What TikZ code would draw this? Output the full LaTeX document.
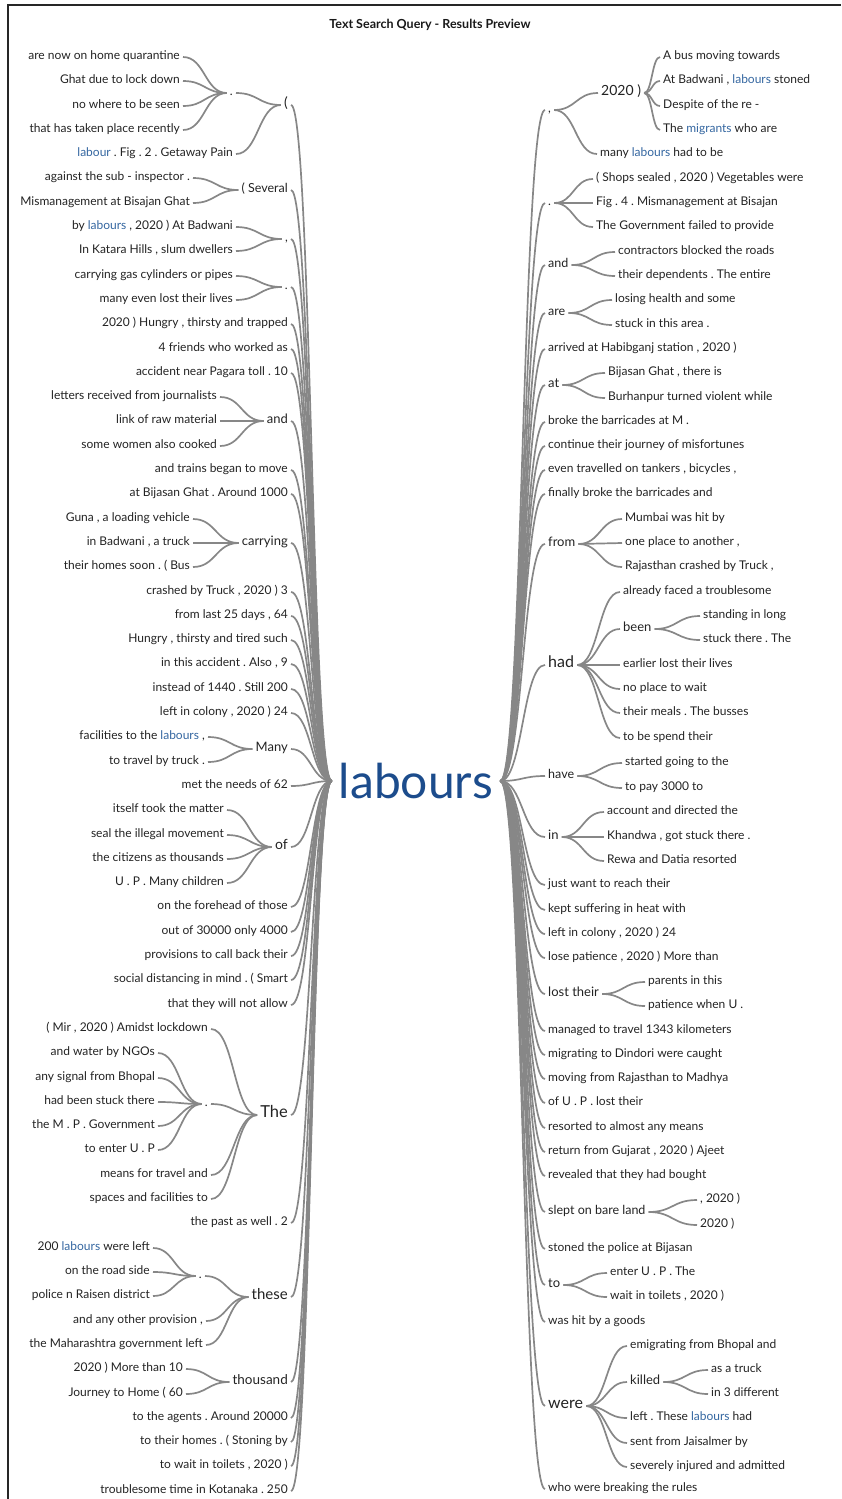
\documentclass[tikz,border=0pt]{standalone}
\usepackage{fontspec}
\setmainfont{Lato}
\usepackage{tikz}
\usetikzlibrary{calc}
\frenchspacing

\definecolor{wtext}{RGB}{35,35,35}
\definecolor{wlink}{RGB}{135,135,135}
\definecolor{hlblue}{RGB}{52,102,160}
\definecolor{keyblue}{RGB}{28,76,140}
\newcommand{\hw}[1]{\textcolor{hlblue}{#1}}

\tikzset{
  leaf/.style={font=\fontsize{12}{14}\selectfont, text=wtext, inner sep=3pt},
  lleaf/.style={leaf, anchor=mid east},
  rleaf/.style={leaf, anchor=mid west},
  hub/.style={font=\fontsize{#1}{#1}\selectfont, text=wtext, inner sep=3pt},
  lhub/.style={hub=#1, anchor=mid east},
  rhub/.style={hub=#1, anchor=mid west},
  wt/.style={draw=wlink, line width=1.7pt,
    to path={let \p1=(\tikztostart), \p2=(\tikztotarget) in
      .. controls ({(\x1+\x2)/2},\y1) and ({(\x1+\x2)/2},\y2) .. (\tikztotarget)}},
}

\begin{document}
\begin{tikzpicture}[x=1pt,y=-1pt]
\useasboundingbox (0,0) rectangle (841,1499);
% frame and title:
\draw[line width=1.5pt,black!85] (8,1499) -- (8,5) -- (841,5);
\node[font=\bfseries\fontsize{12.5}{14}\selectfont, text=black!90] (title) at (430,25) {Text Search Query - Results Preview};
% the search word:
\node[font=\fontsize{48}{48}\selectfont, text=keyblue, inner sep=7pt] (lab) at (416,781) {labours};

% left side, hubs:
\node[lhub=14] (lparen) at (291,105) {(};
\node[lhub=12] (ldotA) at (236,93) {.};
\node[lhub=12.5] (lsev) at (291,190) {( Several};
\node[lhub=12] (lcommaA) at (291,239) {,};
\node[lhub=12] (ldotB) at (291,287) {.};
\node[lhub=13] (land) at (291,421) {and};
\node[lhub=13] (lcarry) at (291,543) {carrying};
\node[lhub=13] (lmany) at (291,749) {Many};
\node[lhub=14] (lof) at (291,847) {of};
\node[lhub=16.5] (lthe) at (291,1115) {The};
\node[lhub=12] (ldotC) at (211,1104) {.};
\node[lhub=15] (lthese) at (291,1297) {these};
\node[lhub=12] (ldotD) at (205,1276) {.};
\node[lhub=13.5] (lthou) at (291,1382) {thousand};

% left side, rows:
\node[lleaf] (l1) at (183,57) {are now on home quarantine};
\node[lleaf] (l2) at (183,81) {Ghat due to lock down};
\node[lleaf] (l3) at (183,106) {no where to be seen};
\node[lleaf] (l4) at (183,130) {that has taken place recently};
\node[lleaf] (l5) at (236,154) {\hw{labour} . Fig . 2 . Getaway Pain};
\node[lleaf] (l6) at (193,178) {against the sub - inspector .};
\node[lleaf] (l7) at (193,203) {Mismanagement at Bisajan Ghat};
\node[lleaf] (l8) at (236,227) {by \hw{labours} , 2020 ) At Badwani};
\node[lleaf] (l9) at (236,251) {In Katara Hills , slum dwellers};
\node[lleaf] (l10) at (236,276) {carrying gas cylinders or pipes};
\node[lleaf] (l11) at (236,300) {many even lost their lives};
\node[lleaf] (l12) at (291,324) {2020 ) Hungry , thirsty and trapped};
\node[lleaf] (l13) at (291,349) {4 friends who worked as};
\node[lleaf] (l14) at (291,373) {accident near Pagara toll . 10};
\node[lleaf] (l15) at (220,397) {letters received from journalists};
\node[lleaf] (l16) at (220,421) {link of raw material};
\node[lleaf] (l17) at (220,446) {some women also cooked};
\node[lleaf] (l18) at (291,470) {and trains began to move};
\node[lleaf] (l19) at (291,494) {at Bijasan Ghat . Around 1000};
\node[lleaf] (l20) at (193,519) {Guna , a loading vehicle};
\node[lleaf] (l21) at (193,543) {in Badwani , a truck};
\node[lleaf] (l22) at (193,567) {their homes soon . ( Bus};
\node[lleaf] (l23) at (291,592) {crashed by Truck , 2020 ) 3};
\node[lleaf] (l24) at (291,616) {from last 25 days , 64};
\node[lleaf] (l25) at (291,640) {Hungry , thirsty and tired such};
\node[lleaf] (l26) at (291,664) {in this accident . Also , 9};
\node[lleaf] (l27) at (291,689) {instead of 1440 . Still 200};
\node[lleaf] (l28) at (291,713) {left in colony , 2020 ) 24};
\node[lleaf] (l29) at (208,737) {facilities to the \hw{labours} ,};
\node[lleaf] (l30) at (208,762) {to travel by truck .};
\node[lleaf] (l31) at (291,786) {met the needs of 62};
\node[lleaf] (l32) at (227,810) {itself took the matter};
\node[lleaf] (l33) at (227,835) {seal the illegal movement};
\node[lleaf] (l34) at (227,859) {the citizens as thousands};
\node[lleaf] (l35) at (227,883) {U . P . Many children};
\node[lleaf] (l36) at (291,907) {on the forehead of those};
\node[lleaf] (l37) at (291,932) {out of 30000 only 4000};
\node[lleaf] (l38) at (291,956) {provisions to call back their};
\node[lleaf] (l39) at (291,980) {social distancing in mind . ( Smart};
\node[lleaf] (l40) at (291,1005) {that they will not allow};
\node[lleaf] (l41) at (211,1029) {( Mir , 2020 ) Amidst lockdown};
\node[lleaf] (l42) at (158,1053) {and water by NGOs};
\node[lleaf] (l43) at (158,1078) {any signal from Bhopal};
\node[lleaf] (l44) at (158,1102) {had been stuck there};
\node[lleaf] (l45) at (158,1126) {the M . P . Government};
\node[lleaf] (l46) at (158,1150) {to enter U . P};
\node[lleaf] (l47) at (211,1175) {means for travel and};
\node[lleaf] (l48) at (211,1199) {spaces and facilities to};
\node[lleaf] (l49) at (291,1223) {the past as well . 2};
\node[lleaf] (l50) at (153,1248) {200 \hw{labours} were left};
\node[lleaf] (l51) at (153,1272) {on the road side};
\node[lleaf] (l52) at (153,1296) {police n Raisen district};
\node[lleaf] (l53) at (206,1321) {and any other provision ,};
\node[lleaf] (l54) at (206,1345) {the Maharashtra government left};
\node[lleaf] (l55) at (186,1369) {2020 ) More than 10};
\node[lleaf] (l56) at (186,1394) {Journey to Home ( 60};
\node[lleaf] (l57) at (291,1418) {to the agents . Around 20000};
\node[lleaf] (l58) at (291,1442) {to their homes . ( Stoning by};
\node[lleaf] (l59) at (291,1466) {to wait in toilets , 2020 )};
\node[lleaf] (l60) at (291,1491) {troublesome time in Kotanaka . 250};

% right side, hubs:
\node[rhub=12] (rcommaA) at (545,110) {,};
\node[rhub=14] (r2020) at (598,93) {2020 )};
\node[rhub=12] (rdotA) at (545,203) {.};
\node[rhub=12.5] (rand) at (545,265) {and};
\node[rhub=12.5] (rare) at (545,313) {are};
\node[rhub=13] (rat) at (545,385) {at};
\node[rhub=13] (rfrom) at (545,544) {from};
\node[rhub=16] (rhad) at (545,665) {had};
\node[rhub=13] (rbeen) at (620,629) {been};
\node[rhub=12.5] (rhave) at (545,776) {have};
\node[rhub=13] (rin) at (545,837) {in};
\node[rhub=13] (rlost) at (545,994) {lost their};
\node[rhub=12.5] (rslept) at (545,1212) {slept on bare land};
\node[rhub=13] (rto) at (545,1285) {to};
\node[rhub=16] (rwere) at (545,1406) {were};
\node[rhub=13] (rkill) at (627,1382) {killed};

% right side, rows:
\node[rleaf] (r1) at (660,57) {A bus moving towards};
\node[rleaf] (r2) at (660,81) {At Badwani , \hw{labours} stoned};
\node[rleaf] (r3) at (660,106) {Despite of the re -};
\node[rleaf] (r4) at (660,130) {The \hw{migrants} who are};
\node[rleaf] (r5) at (597,154) {many \hw{labours} had to be};
\node[rleaf] (r6) at (593,179) {( Shops sealed , 2020 ) Vegetables were};
\node[rleaf] (r7) at (593,203) {Fig . 4 . Mismanagement at Bisajan};
\node[rleaf] (r8) at (593,227) {The Government failed to provide};
\node[rleaf] (r9) at (615,252) {contractors blocked the roads};
\node[rleaf] (r10) at (615,276) {their dependents . The entire};
\node[rleaf] (r11) at (612,300) {losing health and some};
\node[rleaf] (r12) at (612,325) {stuck in this area .};
\node[rleaf] (r13) at (545,349) {arrived at Habibganj station , 2020 )};
\node[rleaf] (r14) at (605,373) {Bijasan Ghat , there is};
\node[rleaf] (r15) at (605,398) {Burhanpur turned violent while};
\node[rleaf] (r16) at (545,422) {broke the barricades at M .};
\node[rleaf] (r17) at (545,446) {continue their journey of misfortunes};
\node[rleaf] (r18) at (545,470) {even travelled on tankers , bicycles ,};
\node[rleaf] (r19) at (545,494) {finally broke the barricades and};
\node[rleaf] (r20) at (622,519) {Mumbai was hit by};
\node[rleaf] (r21) at (622,543) {one place to another ,};
\node[rleaf] (r22) at (622,567) {Rajasthan crashed by Truck ,};
\node[rleaf] (r23) at (620,592) {already faced a troublesome};
\node[rleaf] (r24) at (700,616) {standing in long};
\node[rleaf] (r25) at (700,640) {stuck there . The};
\node[rleaf] (r26) at (620,665) {earlier lost their lives};
\node[rleaf] (r27) at (620,689) {no place to wait};
\node[rleaf] (r28) at (620,713) {their meals . The busses};
\node[rleaf] (r29) at (620,738) {to be spend their};
\node[rleaf] (r30) at (622,763) {started going to the};
\node[rleaf] (r31) at (622,788) {to pay 3000 to};
\node[rleaf] (r32) at (604,812) {account and directed the};
\node[rleaf] (r33) at (604,837) {Khandwa , got stuck there .};
\node[rleaf] (r34) at (604,861) {Rewa and Datia resorted};
\node[rleaf] (r35) at (545,885) {just want to reach their};
\node[rleaf] (r36) at (545,910) {kept suffering in heat with};
\node[rleaf] (r37) at (545,934) {left in colony , 2020 ) 24};
\node[rleaf] (r38) at (545,958) {lose patience , 2020 ) More than};
\node[rleaf] (r39) at (645,982) {parents in this};
\node[rleaf] (r40) at (645,1006) {patience when U .};
\node[rleaf] (r41) at (545,1031) {managed to travel 1343 kilometers};
\node[rleaf] (r42) at (545,1055) {migrating to Dindori were caught};
\node[rleaf] (r43) at (545,1079) {moving from Rajasthan to Madhya};
\node[rleaf] (r44) at (545,1103) {of U . P . lost their};
\node[rleaf] (r45) at (545,1128) {resorted to almost any means};
\node[rleaf] (r46) at (545,1152) {return from Gujarat , 2020 ) Ajeet};
\node[rleaf] (r47) at (545,1176) {revealed that they had bought};
\node[rleaf] (r48) at (697,1200) {, 2020 )};
\node[rleaf] (r49) at (697,1225) {2020 )};
\node[rleaf] (r50) at (545,1249) {stoned the police at Bijasan};
\node[rleaf] (r51) at (607,1273) {enter U . P . The};
\node[rleaf] (r52) at (607,1297) {wait in toilets , 2020 )};
\node[rleaf] (r53) at (545,1322) {was hit by a goods};
\node[rleaf] (r54) at (627,1346) {emigrating from Bhopal and};
\node[rleaf] (r55) at (708,1370) {as a truck};
\node[rleaf] (r56) at (708,1394) {in 3 different};
\node[rleaf] (r57) at (627,1418) {left . These \hw{labours} had};
\node[rleaf] (r58) at (627,1443) {sent from Jaisalmer by};
\node[rleaf] (r59) at (627,1467) {severely injured and admitted};
\node[rleaf] (r60) at (545,1489) {who were breaking the rules};

% left links into labours:
\draw[wt] (lparen.mid east) to (lab.west); \draw[wt] (lsev.mid east) to (lab.west);
\draw[wt] (lcommaA.mid east) to (lab.west); \draw[wt] (ldotB.mid east) to (lab.west);
\draw[wt] (l12.mid east) to (lab.west); \draw[wt] (l13.mid east) to (lab.west);
\draw[wt] (l14.mid east) to (lab.west); \draw[wt] (land.mid east) to (lab.west);
\draw[wt] (l18.mid east) to (lab.west); \draw[wt] (l19.mid east) to (lab.west);
\draw[wt] (lcarry.mid east) to (lab.west); \draw[wt] (l23.mid east) to (lab.west);
\draw[wt] (l24.mid east) to (lab.west); \draw[wt] (l25.mid east) to (lab.west);
\draw[wt] (l26.mid east) to (lab.west); \draw[wt] (l27.mid east) to (lab.west);
\draw[wt] (l28.mid east) to (lab.west); \draw[wt] (lmany.mid east) to (lab.west);
\draw[wt] (l31.mid east) to (lab.west); \draw[wt] (lof.mid east) to (lab.west);
\draw[wt] (l36.mid east) to (lab.west); \draw[wt] (l37.mid east) to (lab.west);
\draw[wt] (l38.mid east) to (lab.west); \draw[wt] (l39.mid east) to (lab.west);
\draw[wt] (l40.mid east) to (lab.west); \draw[wt] (lthe.mid east) to (lab.west);
\draw[wt] (l49.mid east) to (lab.west); \draw[wt] (lthese.mid east) to (lab.west);
\draw[wt] (lthou.mid east) to (lab.west); \draw[wt] (l57.mid east) to (lab.west);
\draw[wt] (l58.mid east) to (lab.west); \draw[wt] (l59.mid east) to (lab.west);
\draw[wt] (l60.mid east) to (lab.west);
% left links into hubs:
\draw[wt] (l1.mid east) to (ldotA.mid west); \draw[wt] (l2.mid east) to (ldotA.mid west);
\draw[wt] (l3.mid east) to (ldotA.mid west); \draw[wt] (l4.mid east) to (ldotA.mid west);
\draw[wt] (ldotA.mid east) to (lparen.mid west); \draw[wt] (l5.mid east) to (lparen.mid west);
\draw[wt] (l6.mid east) to (lsev.mid west); \draw[wt] (l7.mid east) to (lsev.mid west);
\draw[wt] (l8.mid east) to (lcommaA.mid west); \draw[wt] (l9.mid east) to (lcommaA.mid west);
\draw[wt] (l10.mid east) to (ldotB.mid west); \draw[wt] (l11.mid east) to (ldotB.mid west);
\draw[wt] (l15.mid east) to (land.mid west); \draw[wt] (l16.mid east) to (land.mid west);
\draw[wt] (l17.mid east) to (land.mid west);
\draw[wt] (l20.mid east) to (lcarry.mid west); \draw[wt] (l21.mid east) to (lcarry.mid west);
\draw[wt] (l22.mid east) to (lcarry.mid west);
\draw[wt] (l29.mid east) to (lmany.mid west); \draw[wt] (l30.mid east) to (lmany.mid west);
\draw[wt] (l32.mid east) to (lof.mid west); \draw[wt] (l33.mid east) to (lof.mid west);
\draw[wt] (l34.mid east) to (lof.mid west); \draw[wt] (l35.mid east) to (lof.mid west);
\draw[wt] (l41.mid east) to (lthe.mid west); \draw[wt] (ldotC.mid east) to (lthe.mid west);
\draw[wt] (l47.mid east) to (lthe.mid west); \draw[wt] (l48.mid east) to (lthe.mid west);
\draw[wt] (l42.mid east) to (ldotC.mid west); \draw[wt] (l43.mid east) to (ldotC.mid west);
\draw[wt] (l44.mid east) to (ldotC.mid west); \draw[wt] (l45.mid east) to (ldotC.mid west);
\draw[wt] (l46.mid east) to (ldotC.mid west);
\draw[wt] (ldotD.mid east) to (lthese.mid west); \draw[wt] (l53.mid east) to (lthese.mid west);
\draw[wt] (l54.mid east) to (lthese.mid west);
\draw[wt] (l50.mid east) to (ldotD.mid west); \draw[wt] (l51.mid east) to (ldotD.mid west);
\draw[wt] (l52.mid east) to (ldotD.mid west);
\draw[wt] (l55.mid east) to (lthou.mid west); \draw[wt] (l56.mid east) to (lthou.mid west);

% right links out of labours:
\draw[wt] (lab.east) to (rcommaA.mid west); \draw[wt] (lab.east) to (rdotA.mid west);
\draw[wt] (lab.east) to (rand.mid west); \draw[wt] (lab.east) to (rare.mid west);
\draw[wt] (lab.east) to (r13.mid west); \draw[wt] (lab.east) to (rat.mid west);
\draw[wt] (lab.east) to (r16.mid west); \draw[wt] (lab.east) to (r17.mid west);
\draw[wt] (lab.east) to (r18.mid west); \draw[wt] (lab.east) to (r19.mid west);
\draw[wt] (lab.east) to (rfrom.mid west); \draw[wt] (lab.east) to (rhad.mid west);
\draw[wt] (lab.east) to (rhave.mid west); \draw[wt] (lab.east) to (rin.mid west);
\draw[wt] (lab.east) to (r35.mid west); \draw[wt] (lab.east) to (r36.mid west);
\draw[wt] (lab.east) to (r37.mid west); \draw[wt] (lab.east) to (r38.mid west);
\draw[wt] (lab.east) to (rlost.mid west); \draw[wt] (lab.east) to (r41.mid west);
\draw[wt] (lab.east) to (r42.mid west); \draw[wt] (lab.east) to (r43.mid west);
\draw[wt] (lab.east) to (r44.mid west); \draw[wt] (lab.east) to (r45.mid west);
\draw[wt] (lab.east) to (r46.mid west); \draw[wt] (lab.east) to (r47.mid west);
\draw[wt] (lab.east) to (rslept.mid west); \draw[wt] (lab.east) to (r50.mid west);
\draw[wt] (lab.east) to (rto.mid west); \draw[wt] (lab.east) to (r53.mid west);
\draw[wt] (lab.east) to (rwere.mid west); \draw[wt] (lab.east) to (r60.mid west);
% right links out of hubs:
\draw[wt] (rcommaA.mid east) to (r2020.mid west); \draw[wt] (rcommaA.mid east) to (r5.mid west);
\draw[wt] (r2020.mid east) to (r1.mid west); \draw[wt] (r2020.mid east) to (r2.mid west);
\draw[wt] (r2020.mid east) to (r3.mid west); \draw[wt] (r2020.mid east) to (r4.mid west);
\draw[wt] (rdotA.mid east) to (r6.mid west); \draw[wt] (rdotA.mid east) to (r7.mid west);
\draw[wt] (rdotA.mid east) to (r8.mid west);
\draw[wt] (rand.mid east) to (r9.mid west); \draw[wt] (rand.mid east) to (r10.mid west);
\draw[wt] (rare.mid east) to (r11.mid west); \draw[wt] (rare.mid east) to (r12.mid west);
\draw[wt] (rat.mid east) to (r14.mid west); \draw[wt] (rat.mid east) to (r15.mid west);
\draw[wt] (rfrom.mid east) to (r20.mid west); \draw[wt] (rfrom.mid east) to (r21.mid west);
\draw[wt] (rfrom.mid east) to (r22.mid west);
\draw[wt] (rhad.mid east) to (r23.mid west); \draw[wt] (rhad.mid east) to (rbeen.mid west);
\draw[wt] (rhad.mid east) to (r26.mid west); \draw[wt] (rhad.mid east) to (r27.mid west);
\draw[wt] (rhad.mid east) to (r28.mid west); \draw[wt] (rhad.mid east) to (r29.mid west);
\draw[wt] (rbeen.mid east) to (r24.mid west); \draw[wt] (rbeen.mid east) to (r25.mid west);
\draw[wt] (rhave.mid east) to (r30.mid west); \draw[wt] (rhave.mid east) to (r31.mid west);
\draw[wt] (rin.mid east) to (r32.mid west); \draw[wt] (rin.mid east) to (r33.mid west);
\draw[wt] (rin.mid east) to (r34.mid west);
\draw[wt] (rlost.mid east) to (r39.mid west); \draw[wt] (rlost.mid east) to (r40.mid west);
\draw[wt] (rslept.mid east) to (r48.mid west); \draw[wt] (rslept.mid east) to (r49.mid west);
\draw[wt] (rto.mid east) to (r51.mid west); \draw[wt] (rto.mid east) to (r52.mid west);
\draw[wt] (rwere.mid east) to (r54.mid west); \draw[wt] (rwere.mid east) to (rkill.mid west);
\draw[wt] (rwere.mid east) to (r57.mid west); \draw[wt] (rwere.mid east) to (r58.mid west);
\draw[wt] (rwere.mid east) to (r59.mid west);
\draw[wt] (rkill.mid east) to (r55.mid west); \draw[wt] (rkill.mid east) to (r56.mid west);
\end{tikzpicture}
\end{document}
